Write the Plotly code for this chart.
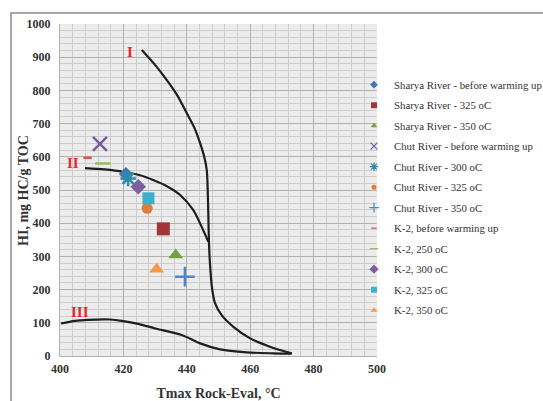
import plotly.graph_objects as go

# ---- data ----
series_names = [
    "Sharya River - before warming up",
    "Sharya River - 325 oC",
    "Sharya River - 350 oC",
    "Chut River - before warming up",
    "Chut River - 300 oC",
    "Chut River - 325 oC",
    "Chut River - 350 oC",
    "K-2, before warming up",
    "K-2, 250 oC",
    "K-2, 300 oC",
    "K-2, 325 oC",
    "K-2, 350 oC",
]
tmax = [420.8, 432.6, 436.5, 412.6, 421.5, 427.5, 439.4, 408.7, 413.5, 424.7, 427.9, 430.5]
hi = [548, 383, 304, 639, 535, 445, 239, 597, 580, 510, 475, 261]

type1_x = [425.8, 430, 433.7, 437, 440, 442.5, 444.2, 445.5, 446.3, 446.6, 446.8, 447.0, 447.3, 447.9, 448.9, 451, 454.7, 460, 466.2, 473.1]
type1_y = [922, 877, 831, 785, 731, 685, 641, 600, 560, 500, 420, 340, 280, 209, 159, 123, 88, 53, 28, 8]
type2_x = [407.9, 414, 420, 425, 429.4, 434, 437.9, 442, 444.7, 446.8]
type2_y = [566, 562, 555, 545, 530, 510, 485, 440, 389, 344]
type3_x = [400.3, 404.7, 408.9, 415.8, 419.5, 425, 430, 438.4, 444.2, 450.5, 458.9, 467.3, 473.1]
type3_y = [98, 106, 109, 110, 106, 96, 83, 63, 38, 20, 11, 8, 7]

type_labels = ["I", "II", "III"]
type_label_x = [422, 404.2, 406.3]
type_label_y = [916, 580, 132]

# ---- styles ----
colors = ["#3f78b5", "#a0353a", "#77a03c", "#7a5c9c", "#2b8bab", "#e07b39",
          "#4f86c6", "#d9534f", "#9bbb59", "#7d5ea3", "#3fb0cc", "#f79646"]
symbols = ["diamond", "square", "triangle-up", "x-thin-open", "asterisk-open", "circle",
           "cross-thin-open", "line-ew-open", "line-ew-open", "diamond", "square", "triangle-up"]
sizes = [11, 13, 13, 14, 13, 11, 14, 6, 11, 12, 12, 13]
legend_sizes = [6, 6, 6, 7, 7, 5, 7, 4, 6, 7, 6, 6]

FONT = "Liberation Serif"

fig = go.Figure()

for xs, ys in [(type1_x, type1_y), (type2_x, type2_y), (type3_x, type3_y)]:
    fig.add_trace(go.Scatter(x=xs, y=ys, mode="lines", showlegend=False, hoverinfo="skip",
                             line=dict(color="#1e1e1e", width=2.2, shape="spline", smoothing=0.8)))


def mk(i, size, lw):
    sym = symbols[i]
    m = dict(symbol=sym, size=size, color=colors[i])
    m["line"] = dict(color=colors[i], width=lw) if sym.endswith("-open") else dict(width=0)
    return m


for i, name in enumerate(series_names):
    # data point
    fig.add_trace(go.Scatter(x=[tmax[i]], y=[hi[i]], mode="markers", name=name,
                             marker=mk(i, sizes[i], 2.5), showlegend=False))
    # legend entry (small symbol, as in the original legend)
    fig.add_trace(go.Scatter(x=[None], y=[None], mode="markers", name=name,
                             marker=mk(i, legend_sizes[i], 1.2), legendgroup=name,
                             showlegend=True))

for t, x, y in zip(type_labels, type_label_x, type_label_y):
    fig.add_annotation(x=x, y=y, text="<b>" + t + "</b>", showarrow=False,
                       font=dict(family=FONT, size=15, color="#e8262b"))

# y axis title as annotation (placed like the original)
fig.add_annotation(xref="paper", yref="paper", x=-0.117, y=0.5, textangle=-90,
                   xanchor="center", yanchor="middle",
                   text="<b>HI, mg HC/g TOC</b>", showarrow=False,
                   font=dict(family=FONT, size=14, color="#333333"))

# outer border
fig.add_shape(type="rect", xref="paper", yref="paper",
              x0=-0.1546, x1=1.53, y0=-0.2, y1=1.033,
              line=dict(color="#8c8c8c", width=1.5), fillcolor="rgba(0,0,0,0)", layer="above")

fig.update_layout(
    width=543, height=401,
    margin=dict(l=60, r=166, t=24, b=45, autoexpand=False),
    paper_bgcolor="white",
    plot_bgcolor="#ececec",
    font=dict(family=FONT, color="#333333"),
    legend=dict(x=0.9275, y=0.861, xanchor="left", yanchor="top",
                font=dict(family=FONT, size=10.8, color="#333333"),
                tracegroupgap=1.5, itemwidth=30, bgcolor="rgba(0,0,0,0)"),
    xaxis=dict(range=[400, 500], tickmode="linear", tick0=400, dtick=20,
               showgrid=True, gridcolor="#b0b0b0", gridwidth=1,
               minor=dict(dtick=4, showgrid=True, gridcolor="#cdcdcd", gridwidth=1),
               zeroline=False, showline=True, linecolor="#b0b0b0",
               tickfont=dict(family=FONT, size=12, color="#333333"),
               ticks="", ticklabelstandoff=2, automargin=False,
               title=dict(text="<b>Tmax Rock-Eval, °C</b>", font=dict(family=FONT, size=14, color="#333333"),
                          standoff=18)),
    yaxis=dict(range=[0, 1000], tickmode="linear", tick0=0, dtick=100,
               showgrid=True, gridcolor="#b0b0b0", gridwidth=1,
               minor=dict(dtick=20, showgrid=True, gridcolor="#cdcdcd", gridwidth=1),
               zeroline=False, showline=True, linecolor="#b0b0b0",
               tickfont=dict(family=FONT, size=12, color="#333333"),
               ticks="", ticklabelstandoff=6, automargin=False),
)
fig.update_xaxes(tickprefix="<b>", ticksuffix="</b>")
fig.update_yaxes(tickprefix="<b>", ticksuffix="</b>")

fig.write_html("out.html", config={"displayModeBar": False},
               post_script="document.body.style.margin='0';")
